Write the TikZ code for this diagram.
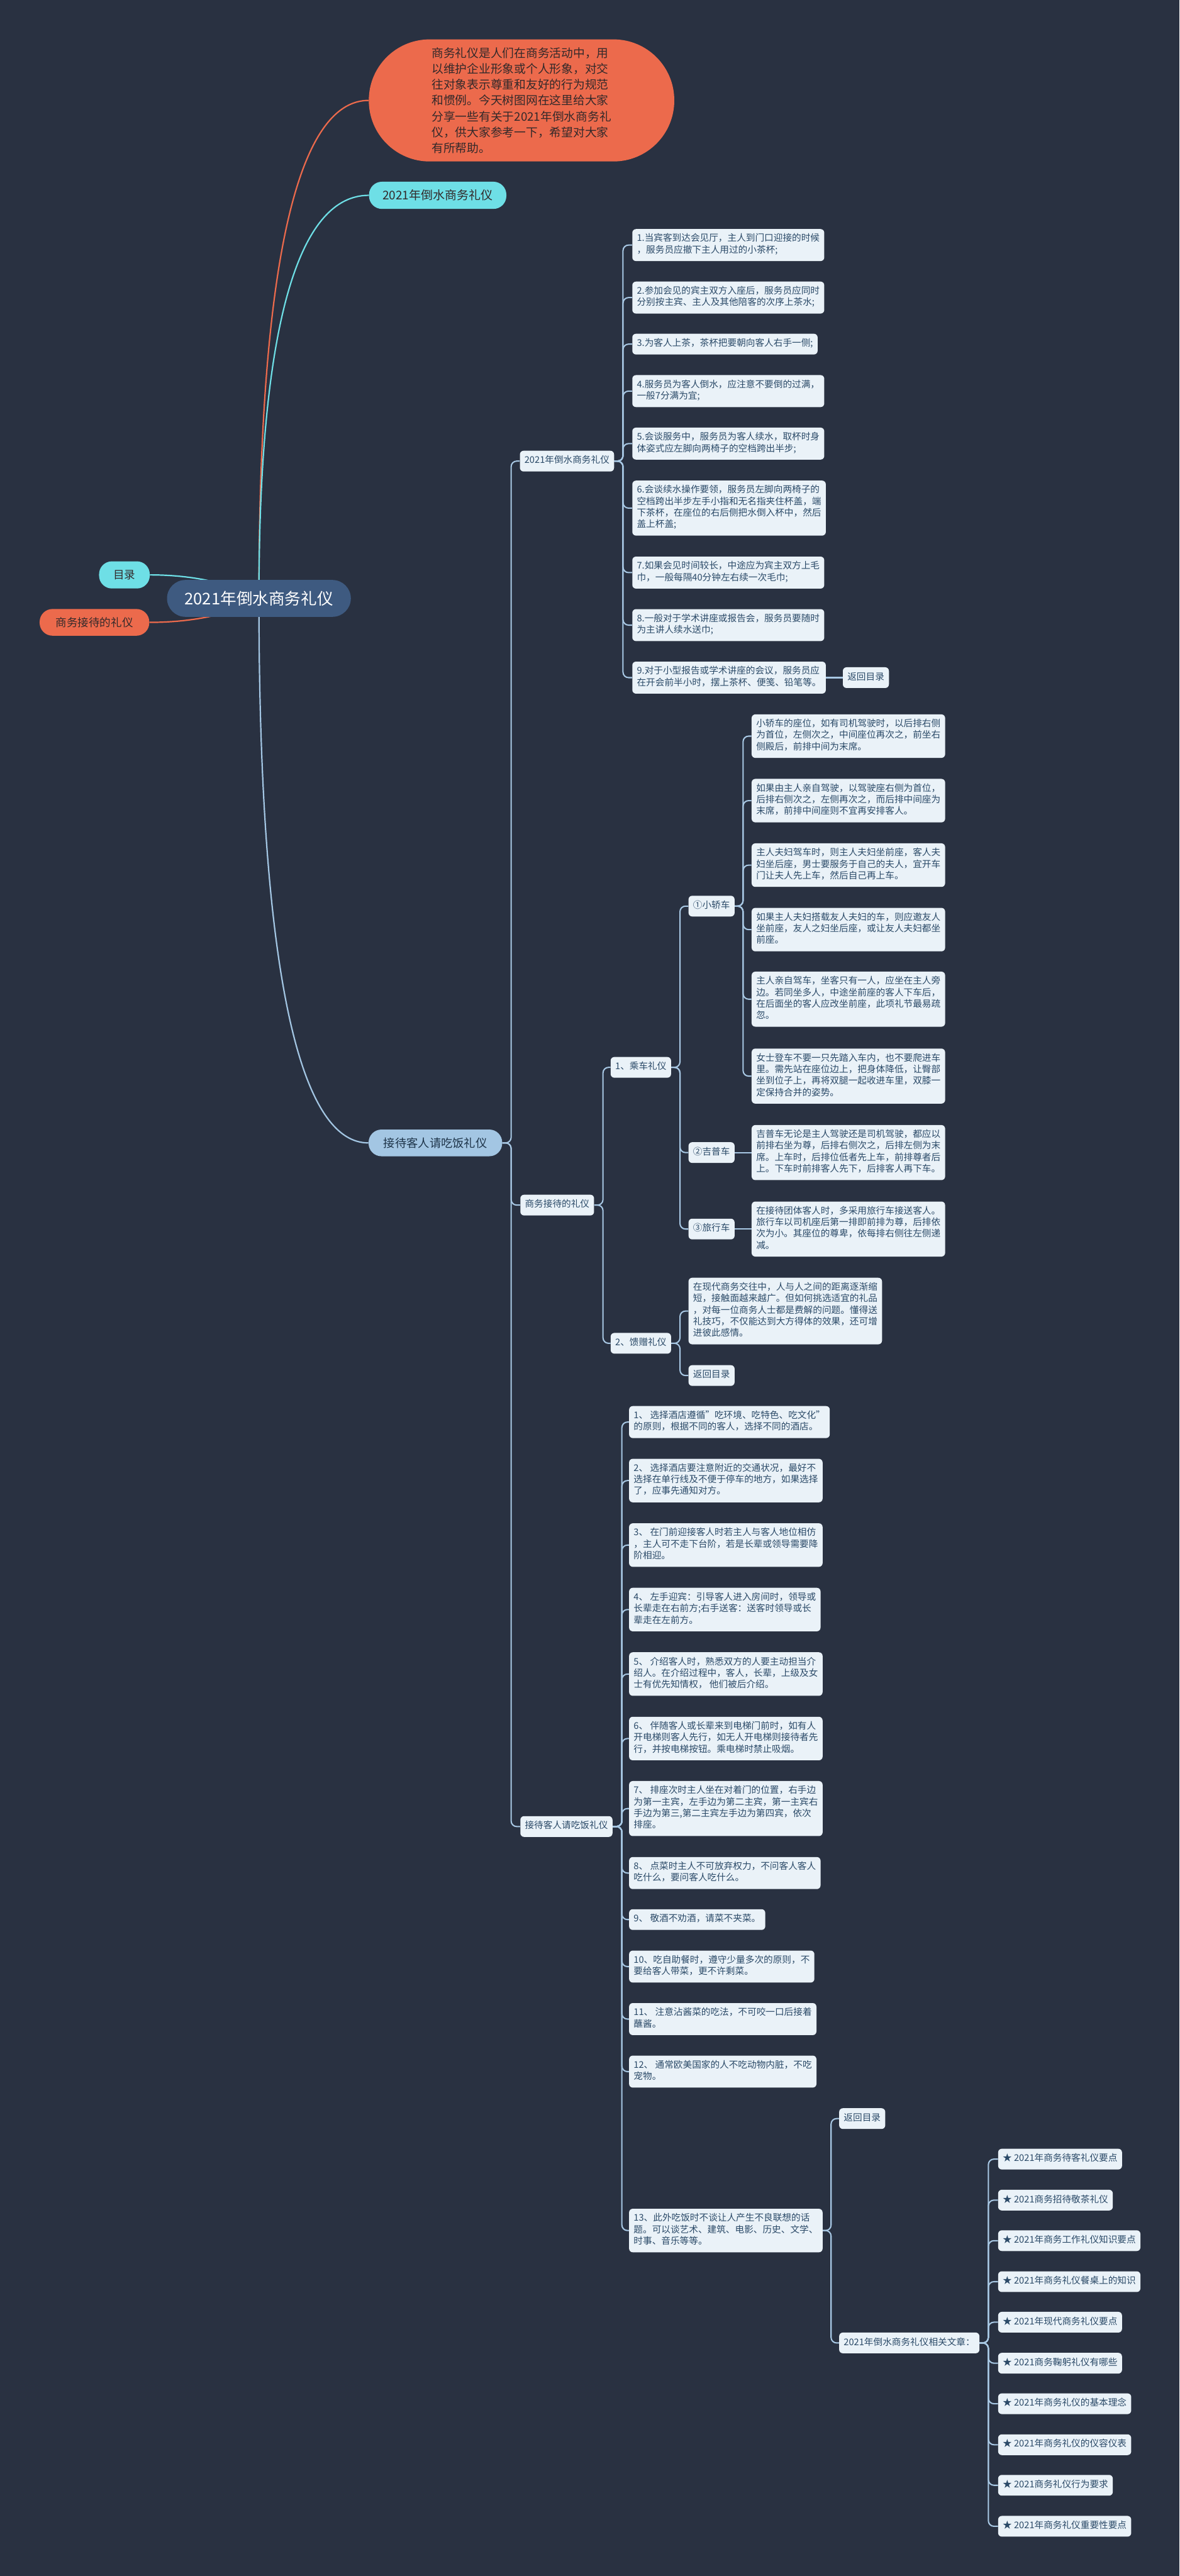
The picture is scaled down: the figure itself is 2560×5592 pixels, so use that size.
\documentclass[tikz,border=0pt]{standalone}
\usepackage{fontspec}
\setmainfont{Noto Sans CJK SC}
\usetikzlibrary{backgrounds}
\definecolor{bgnavy}{HTML}{293141}
\definecolor{rootblue}{HTML}{3E5A80}
\definecolor{introorange}{HTML}{EC6A4C}
\definecolor{tocyan}{HTML}{6EDFE6}
\definecolor{mealblue}{HTML}{A3C6E3}
\definecolor{linkblue}{HTML}{A8C8E4}
\definecolor{cardwhite}{HTML}{EAF2F8}
\definecolor{cardtext}{HTML}{2B4A68}
\definecolor{darkink}{HTML}{33292A}

\begin{document}
\begin{tikzpicture}[
    x=0.5pt, y=-0.5pt,
    line cap=round,
    line join=round,
    pill/.style={rounded corners=14pt, inner sep=0pt, text=darkink},
    card/.style={fill=cardwhite, text=cardtext, rounded corners=4pt, anchor=west,
        align=left, inner xsep=5pt, inner ysep=5pt,
        font=\fontsize{10}{12.5}\selectfont,
        execute at begin node=\strut, execute at end node=\strut},
    link/.style={draw=linkblue, line width=1.4pt, rounded corners=6pt},
    curve/.style={line width=1.5pt}
]

% page and background
\useasboundingbox (0,0) rectangle (2560,5592);
\begin{scope}[on background layer]
  \fill[bgnavy] (0,0) rectangle (2560,5592);
\end{scope}

% centre and first level
\node[fill=rootblue, text=white, rounded corners=20pt, inner sep=0pt,
      minimum width=199.5pt, minimum height=40pt,
      font=\fontsize{17.5}{20}\selectfont] (root) at (562,1299) {2021年倒水商务礼仪};

\node[fill=introorange, text=darkink, rounded corners=66pt, inner sep=0pt,
      minimum width=331.5pt, minimum height=132.5pt, align=left,
      font=\fontsize{12.8}{17.2}\selectfont] (intro) at (1132,218)
  {商务礼仪是人们在商务活动中，用\\以维护企业形象或个人形象，对交\\往对象表示尊重和友好的行为规范\\和惯例。今天树图网在这里给大家\\分享一些有关于2021年倒水商务礼\\仪，供大家参考一下，希望对大家\\有所帮助。};

\node[pill, fill=tocyan, minimum width=149pt, minimum height=29.5pt,
      font=\fontsize{13}{15}\selectfont] (toplabel) at (950,424) {2021年倒水商务礼仪};
\node[pill, fill=tocyan, minimum width=55pt, minimum height=29.5pt,
      font=\fontsize{12}{14}\selectfont] (mulu) at (270,1248) {目录};
\node[pill, fill=introorange, minimum width=119pt, minimum height=29pt,
      font=\fontsize{12}{14}\selectfont] (leftjd) at (205,1351) {商务接待的礼仪};
\node[pill, fill=mealblue, text=cardtext!70!black, minimum width=145pt, minimum height=29pt,
      font=\fontsize{12.5}{14}\selectfont] (meal) at (945,2481) {接待客人请吃饭礼仪};

% second level
\node[card] (sec1) at (1128,1001) {2021年倒水商务礼仪};
\node[card] (sec2) at (1129,2616) {商务接待的礼仪};
\node[card] (sec3) at (1129,3965) {接待客人请吃饭礼仪};

% section 1
\node[card] (tea1) at (1372,532) {1.当宾客到达会见厅，主人到门口迎接的时候\\，服务员应撤下主人用过的小茶杯;};
\node[card] (tea2) at (1372,646) {2.参加会见的宾主双方入座后，服务员应同时\\分别按主宾、主人及其他陪客的次序上茶水;};
\node[card] (tea3) at (1372,747) {3.为客人上茶，茶杯把要朝向客人右手一侧;};
\node[card] (tea4) at (1372,849) {4.服务员为客人倒水，应注意不要倒的过满，\\一般7分满为宜;};
\node[card] (tea5) at (1372,963) {5.会谈服务中，服务员为客人续水，取杯时身\\体姿式应左脚向两椅子的空档跨出半步;};
\node[card] (tea6) at (1372,1103) {6.会谈续水操作要领，服务员左脚向两椅子的\\空档跨出半步左手小指和无名指夹住杯盖，端\\下茶杯，在座位的右后侧把水倒入杯中，然后\\盖上杯盖;};
\node[card] (tea7) at (1372,1243) {7.如果会见时间较长，中途应为宾主双方上毛\\巾，一般每隔40分钟左右续一次毛巾;};
\node[card] (tea8) at (1372,1357) {8.一般对于学术讲座或报告会，服务员要随时\\为主讲人续水送巾;};
\node[card] (tea9) at (1372,1471) {9.对于小型报告或学术讲座的会议，服务员应\\在开会前半小时，摆上茶杯、便笺、铅笔等。};
\node[card] (back1) at (1829,1471) {返回目录};

% section 2
\node[card] (ride) at (1325,2317) {1、乘车礼仪};
\node[card] (gift) at (1325,2916) {2、馈赠礼仪};
\node[card] (sedan) at (1494,1967) {①小轿车};
\node[card] (jeep) at (1494,2502) {②吉普车};
\node[card] (coach) at (1494,2668) {③旅行车};

\node[card] (sedan1) at (1631,1598) {小轿车的座位，如有司机驾驶时，以后排右侧\\为首位，左侧次之，中间座位再次之，前坐右\\侧殿后，前排中间为末席。};
\node[card] (sedan2) at (1631,1738) {如果由主人亲自驾驶，以驾驶座右侧为首位，\\后排右侧次之，左侧再次之，而后排中间座为\\末席，前排中间座则不宜再安排客人。};
\node[card] (sedan3) at (1631,1878) {主人夫妇驾车时，则主人夫妇坐前座，客人夫\\妇坐后座，男士要服务于自己的夫人，宜开车\\门让夫人先上车，然后自己再上车。};
\node[card] (sedan4) at (1631,2018) {如果主人夫妇搭载友人夫妇的车，则应邀友人\\坐前座，友人之妇坐后座，或让友人夫妇都坐\\前座。};
\node[card] (sedan5) at (1631,2169) {主人亲自驾车，坐客只有一人，应坐在主人旁\\边。若同坐多人，中途坐前座的客人下车后，\\在后面坐的客人应改坐前座，此项礼节最易疏\\忽。};
\node[card] (sedan6) at (1631,2336) {女士登车不要一只先踏入车内，也不要爬进车\\里。需先站在座位边上，把身体降低，让臀部\\坐到位子上，再将双腿一起收进车里，双膝一\\定保持合并的姿势。};
\node[card] (jeep1) at (1631,2502) {吉普车无论是主人驾驶还是司机驾驶，都应以\\前排右坐为尊，后排右侧次之，后排左侧为末\\席。上车时，后排位低者先上车，前排尊者后\\上。下车时前排客人先下，后排客人再下车。};
\node[card] (coach1) at (1631,2668) {在接待团体客人时，多采用旅行车接送客人。\\旅行车以司机座后第一排即前排为尊，后排依\\次为小。其座位的尊卑，依每排右侧往左侧递\\减。};
\node[card] (gift1) at (1494,2846) {在现代商务交往中，人与人之间的距离逐渐缩\\短，接触面越来越广。但如何挑选适宜的礼品\\，对每一位商务人士都是费解的问题。懂得送\\礼技巧，不仅能达到大方得体的效果，还可增\\进彼此感情。};
\node[card] (back2) at (1494,2986) {返回目录};

% section 3
\node[card] (dine1) at (1365,3087) {1、 选择酒店遵循"吃环境、吃特色、吃文化"\\的原则，根据不同的客人，选择不同的酒店。};
\node[card] (dine2) at (1365,3214) {2、 选择酒店要注意附近的交通状况，最好不\\选择在单行线及不便于停车的地方，如果选择\\了，应事先通知对方。};
\node[card] (dine3) at (1365,3354) {3、 在门前迎接客人时若主人与客人地位相仿\\，主人可不走下台阶，若是长辈或领导需要降\\阶相迎。};
\node[card] (dine4) at (1365,3494) {4、 左手迎宾：引导客人进入房间时，领导或\\长辈走在右前方;右手送客：送客时领导或长\\辈走在左前方。};
\node[card] (dine5) at (1365,3634) {5、 介绍客人时，熟悉双方的人要主动担当介\\绍人。在介绍过程中，客人，长辈，上级及女\\士有优先知情权， 他们被后介绍。};
\node[card] (dine6) at (1365,3774) {6、 伴随客人或长辈来到电梯门前时，如有人\\开电梯则客人先行，如无人开电梯则接待者先\\行，并按电梯按钮。乘电梯时禁止吸烟。};
\node[card] (dine7) at (1365,3926) {7、 排座次时主人坐在对着门的位置，右手边\\为第一主宾，左手边为第二主宾，第一主宾右\\手边为第三,第二主宾左手边为第四宾，依次\\排座。};
\node[card] (dine8) at (1365,4066) {8、 点菜时主人不可放弃权力，不问客人客人\\吃什么，要问客人吃什么。};
\node[card] (dine9) at (1365,4167) {9、 敬酒不劝酒，请菜不夹菜。};
\node[card] (dine10) at (1365,4269) {10、吃自助餐时，遵守少量多次的原则，不\\要给客人带菜，更不许剩菜。};
\node[card] (dine11) at (1365,4383) {11、 注意沾酱菜的吃法，不可咬一口后接着\\蘸酱。};
\node[card] (dine12) at (1365,4497) {12、 通常欧美国家的人不吃动物内脏，不吃\\宠物。};
\node[card] (dine13) at (1365,4842) {13、此外吃饭时不谈让人产生不良联想的话\\题。可以谈艺术、建筑、电影、历史、文学、\\时事、音乐等等。};
\node[card] (back3) at (1821,4599) {返回目录};
\node[card] (related) at (1821,5086) {2021年倒水商务礼仪相关文章：};

% related articles
\node[card] (art1) at (2166,4687) {★ 2021年商务待客礼仪要点};
\node[card] (art2) at (2166,4776) {★ 2021商务招待敬茶礼仪};
\node[card] (art3) at (2166,4864) {★ 2021年商务工作礼仪知识要点};
\node[card] (art4) at (2166,4953) {★ 2021年商务礼仪餐桌上的知识};
\node[card] (art5) at (2166,5041) {★ 2021年现代商务礼仪要点};
\node[card] (art6) at (2166,5130) {★ 2021商务鞠躬礼仪有哪些};
\node[card] (art7) at (2166,5218) {★ 2021年商务礼仪的基本理念};
\node[card] (art8) at (2166,5307) {★ 2021年商务礼仪的仪容仪表};
\node[card] (art9) at (2166,5395) {★ 2021商务礼仪行为要求};
\node[card] (art10) at (2166,5484) {★ 2021年商务礼仪重要性要点};

% connectors
\begin{scope}[on background layer]
  \draw[curve, introorange] (root.center) .. controls (562,704) and (619,218) .. (intro.west);
  \draw[curve, tocyan] (root.center) .. controls (562,818) and (619,424) .. (toplabel.west);
  \draw[curve, mealblue] (root.center) .. controls (562,1950) and (620,2481) .. (meal.west);
  \draw[curve, tocyan] (mulu.east) .. controls (440,1248) and (520,1275) .. (root.center);
  \draw[curve, introorange] (leftjd.east) .. controls (440,1351) and (520,1325) .. (root.center);

  \draw[link] (meal.east) -- ++(19,0) |- (sec1.west);
  \draw[link] (meal.east) -- ++(19,0) |- (sec2.west);
  \draw[link] (meal.east) -- ++(19,0) |- (sec3.west);

  \draw[link] (sec1.east) -- ++(19,0) |- (tea1.west);
  \draw[link] (sec1.east) -- ++(19,0) |- (tea2.west);
  \draw[link] (sec1.east) -- ++(19,0) |- (tea3.west);
  \draw[link] (sec1.east) -- ++(19,0) |- (tea4.west);
  \draw[link] (sec1.east) -- ++(19,0) |- (tea5.west);
  \draw[link] (sec1.east) -- ++(19,0) |- (tea6.west);
  \draw[link] (sec1.east) -- ++(19,0) |- (tea7.west);
  \draw[link] (sec1.east) -- ++(19,0) |- (tea8.west);
  \draw[link] (sec1.east) -- ++(19,0) |- (tea9.west);
  \draw[link] (tea9.east) -- (back1.west);

  \draw[link] (sec2.east) -- ++(19,0) |- (ride.west);
  \draw[link] (sec2.east) -- ++(19,0) |- (gift.west);
  \draw[link] (ride.east) -- ++(19,0) |- (sedan.west);
  \draw[link] (ride.east) -- ++(19,0) |- (jeep.west);
  \draw[link] (ride.east) -- ++(19,0) |- (coach.west);
  \draw[link] (sedan.east) -- ++(18,0) |- (sedan1.west);
  \draw[link] (sedan.east) -- ++(18,0) |- (sedan2.west);
  \draw[link] (sedan.east) -- ++(18,0) |- (sedan3.west);
  \draw[link] (sedan.east) -- ++(18,0) |- (sedan4.west);
  \draw[link] (sedan.east) -- ++(18,0) |- (sedan5.west);
  \draw[link] (sedan.east) -- ++(18,0) |- (sedan6.west);
  \draw[link] (jeep.east) -- (jeep1.west);
  \draw[link] (coach.east) -- (coach1.west);
  \draw[link] (gift.east) -- ++(19,0) |- (gift1.west);
  \draw[link] (gift.east) -- ++(19,0) |- (back2.west);

  \draw[link] (sec3.east) -- ++(20,0) |- (dine1.west);
  \draw[link] (sec3.east) -- ++(20,0) |- (dine2.west);
  \draw[link] (sec3.east) -- ++(20,0) |- (dine3.west);
  \draw[link] (sec3.east) -- ++(20,0) |- (dine4.west);
  \draw[link] (sec3.east) -- ++(20,0) |- (dine5.west);
  \draw[link] (sec3.east) -- ++(20,0) |- (dine6.west);
  \draw[link] (sec3.east) -- ++(20,0) |- (dine7.west);
  \draw[link] (sec3.east) -- ++(20,0) |- (dine8.west);
  \draw[link] (sec3.east) -- ++(20,0) |- (dine9.west);
  \draw[link] (sec3.east) -- ++(20,0) |- (dine10.west);
  \draw[link] (sec3.east) -- ++(20,0) |- (dine11.west);
  \draw[link] (sec3.east) -- ++(20,0) |- (dine12.west);
  \draw[link] (sec3.east) -- ++(20,0) |- (dine13.west);
  \draw[link] (dine13.east) -- ++(18,0) |- (back3.west);
  \draw[link] (dine13.east) -- ++(18,0) |- (related.west);

  \draw[link] (related.east) -- ++(19,0) |- (art1.west);
  \draw[link] (related.east) -- ++(19,0) |- (art2.west);
  \draw[link] (related.east) -- ++(19,0) |- (art3.west);
  \draw[link] (related.east) -- ++(19,0) |- (art4.west);
  \draw[link] (related.east) -- ++(19,0) |- (art5.west);
  \draw[link] (related.east) -- ++(19,0) |- (art6.west);
  \draw[link] (related.east) -- ++(19,0) |- (art7.west);
  \draw[link] (related.east) -- ++(19,0) |- (art8.west);
  \draw[link] (related.east) -- ++(19,0) |- (art9.west);
  \draw[link] (related.east) -- ++(19,0) |- (art10.west);
\end{scope}

\end{tikzpicture}
\end{document}
